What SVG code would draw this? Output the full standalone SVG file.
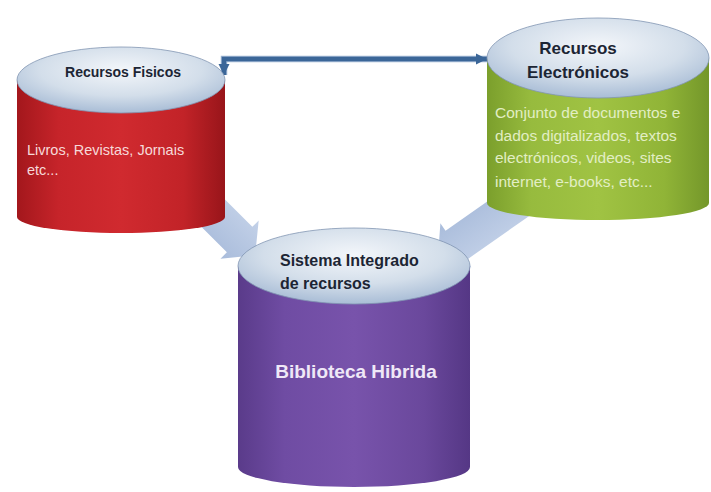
<svg xmlns="http://www.w3.org/2000/svg" width="711" height="492" viewBox="0 0 711 492">
<style>
  .title { font-family: "Liberation Sans", Arial, sans-serif; font-weight: bold; fill: #1c2534; }
  .body { font-family: "Liberation Sans", Arial, sans-serif; }
  .top { fill: url(#topGrad); stroke: #8196b3; stroke-width: 0.8; }
  .block { fill: url(#blockGrad); }
  .line { fill: none; stroke: #3b6698; stroke-width: 4.5; }
</style>
<defs>
  <radialGradient id="topGrad" cx="50%" cy="35%" r="65%">
    <stop offset="0" stop-color="#f3f6fa"/>
    <stop offset="0.6" stop-color="#d3deea"/>
    <stop offset="1" stop-color="#a9bdd6"/>
  </radialGradient>
  <linearGradient id="redGrad" x1="0" y1="0" x2="1" y2="0">
    <stop offset="0" stop-color="#a3171c"/>
    <stop offset="0.2" stop-color="#c6242a"/>
    <stop offset="0.5" stop-color="#d02a2f"/>
    <stop offset="0.8" stop-color="#c22328"/>
    <stop offset="1" stop-color="#98151a"/>
  </linearGradient>
  <linearGradient id="greenGrad" x1="0" y1="0" x2="1" y2="0">
    <stop offset="0" stop-color="#7b9f2c"/>
    <stop offset="0.2" stop-color="#97bb3e"/>
    <stop offset="0.5" stop-color="#a0c343"/>
    <stop offset="0.8" stop-color="#90b437"/>
    <stop offset="1" stop-color="#74972a"/>
  </linearGradient>
  <linearGradient id="purpleGrad" x1="0" y1="0" x2="1" y2="0">
    <stop offset="0" stop-color="#5a3b8a"/>
    <stop offset="0.2" stop-color="#6f4ca3"/>
    <stop offset="0.5" stop-color="#7853ab"/>
    <stop offset="0.8" stop-color="#6a489c"/>
    <stop offset="1" stop-color="#553785"/>
  </linearGradient>
  <linearGradient id="blockGrad" x1="0" y1="0" x2="0" y2="1">
    <stop offset="0" stop-color="#c3d1e8"/>
    <stop offset="1" stop-color="#a9bcdb"/>
  </linearGradient>
  <marker id="ah" viewBox="0 0 10 10" refX="10" refY="5" markerWidth="11" markerHeight="12" orient="auto-start-reverse" markerUnits="userSpaceOnUse">
    <path d="M0,0 L10,5 L0,10 Z" fill="#3b6698"/>
  </marker>
</defs>
<rect width="711" height="492" fill="#ffffff"/>

<g id="connectors">
  <polygon class="block" points="0,-18 56,-18 56,-27 78,0 56,27 56,18 0,18" transform="translate(200,200) rotate(45)"/>
  <polygon class="block" points="0,-18 95,-18 95,-27 117,0 95,27 95,18 0,18" transform="translate(533.7,190.9) rotate(145)"/>
  <path d="M 224 75 L 224 59 L 487 59" fill="none" stroke="#9fb6d3" stroke-width="6.5"/>
  <path class="line" d="M 224 75 L 224 59 L 487 59" marker-start="url(#ah)" marker-end="url(#ah)"/>
</g>

<g id="node-fisicos">
  <path d="M 17 80 L 17 217 A 104 16 0 0 0 225 217 L 225 80 Z" fill="url(#redGrad)"/>
  <ellipse class="top" cx="121" cy="80" rx="104" ry="33"/>
  <text class="title" x="123" y="77" font-size="14" text-anchor="middle">Recursos Fisicos</text>
  <g class="body" font-size="14.5" fill="#f6d9d9">
    <text x="27" y="155">Livros, Revistas, Jornais</text>
    <text x="27" y="175">etc...</text>
  </g>
</g>

<g id="node-electronicos">
  <path d="M 487 58 L 487 203 A 111 17 0 0 0 709 203 L 709 58 Z" fill="url(#greenGrad)"/>
  <ellipse class="top" cx="598" cy="58" rx="111" ry="40"/>
  <text class="title" x="578" y="54" font-size="17" text-anchor="middle">Recursos</text>
  <text class="title" x="578" y="78" font-size="17" text-anchor="middle">Electrónicos</text>
  <g class="body" font-size="15.5" fill="#e2eec4">
    <text x="495" y="118">Conjunto de documentos e</text>
    <text x="495" y="141">dados digitalizados, textos</text>
    <text x="495" y="163">electrónicos, videos, sites</text>
    <text x="495" y="187">internet, e-books, etc...</text>
  </g>
</g>

<g id="node-hibrida">
  <path d="M 238 266 L 238 467 A 116 20 0 0 0 470 467 L 470 266 Z" fill="url(#purpleGrad)"/>
  <ellipse class="top" cx="354" cy="266" rx="116" ry="38"/>
  <text class="title" x="280" y="266" font-size="16">Sistema Integrado</text>
  <text class="title" x="280" y="289" font-size="16">de recursos</text>
  <text x="356" y="378" font-size="19" font-weight="bold" text-anchor="middle" fill="#efe8f7" font-family="Liberation Sans, Arial, sans-serif">Biblioteca Hibrida</text>
</g>
</svg>
